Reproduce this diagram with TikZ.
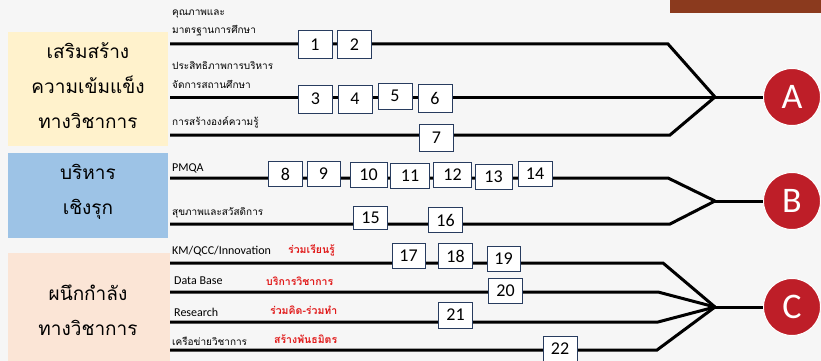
\documentclass[tikz,border=0pt]{standalone}
\usepackage{fontspec}
\setmainfont{Carlito}
\newfontfamily\thaifont[Script=Thai]{Loma}
\usetikzlibrary{positioning}
\definecolor{bgcol}{RGB}{246,246,246}
\definecolor{yellowbox}{RGB}{255,242,204}
\definecolor{bluebox}{RGB}{157,195,230}
\definecolor{pinkbox}{RGB}{251,229,214}
\definecolor{hubred}{RGB}{190,30,40}
\definecolor{topbrown}{RGB}{139,58,30}
\definecolor{boxline}{RGB}{40,60,95}
\definecolor{tagred}{RGB}{225,25,25}
\tikzset{
  group box/.style={
    rectangle, fill=#1, draw=none, inner sep=0pt
  },
  group text/.style={
    align=center, inner sep=0pt,
    font=\thaifont\fontsize{19}{35}\selectfont
  },
  route/.style={
    draw=black, line width=3pt, line join=miter
  },
  step box/.style={
    draw=boxline, fill=white, line width=1pt,
    minimum width=34pt, minimum height=25pt, inner sep=0pt,
    font=\fontsize{18}{18}\selectfont
  },
  hub/.style={
    circle, fill=hubred, draw=white, line width=1pt,
    minimum size=57pt, inner sep=0pt, text=white,
    font=\fontsize{36}{36}\selectfont
  },
  line label/.style={
    anchor=west, inner sep=0pt, font=\thaifont\fontsize{10}{12}\selectfont
  },
  latin label/.style={
    anchor=west, inner sep=0pt, font=\fontsize{12}{12}\selectfont
  },
  red tag/.style={
    anchor=west, inner sep=0pt, text=tagred,
    font=\thaifont\bfseries\fontsize{10.5}{12}\selectfont
  },
}

\begin{document}
\begin{tikzpicture}[x=1pt, y=-1pt]

  \fill[bgcol] (0,0) rectangle (821,361);
  \useasboundingbox (0,0) rectangle (821,361);
  \node[group box=topbrown, minimum width=151pt, minimum height=13pt] (bar) at (745.5,6.5) {};

  % left groups
  \node[group box=yellowbox, minimum width=160pt, minimum height=114pt] (gA) at (88,89) {};
  \node[group box=bluebox, minimum width=160pt, minimum height=85pt] (gB) at (88,195.5) {};
  \node[group box=pinkbox, minimum width=162pt, minimum height=108pt] (gC) at (89,307) {};
  \node[group text] (tA) at (88,86) {เสริมสร้าง\\ความเข้มแข็ง\\ทางวิชาการ};
  \node[group text] (tB) at (88,192) {บริหาร\\เชิงรุก};
  \node[group text] (tC) at (88,310) {ผนึกกำลัง\\ทางวิชาการ};

  % line ends, bends and junctions
  \coordinate (sA1) at (170,44);  \coordinate (kA1) at (668,44);
  \coordinate (sA2) at (170,97);
  \coordinate (sA3) at (170,135); \coordinate (kA3) at (670,135);
  \coordinate (jA) at (715,97);
  \coordinate (sB1) at (170,178); \coordinate (kB1) at (668,178);
  \coordinate (sB2) at (170,224); \coordinate (kB2) at (670,224);
  \coordinate (jB) at (715,201);
  \coordinate (sC1) at (170,263); \coordinate (kC1) at (663,263);
  \coordinate (sC2) at (170,292); \coordinate (kC2) at (658,292);
  \coordinate (sC3) at (170,322); \coordinate (kC3) at (658,322);
  \coordinate (sC4) at (170,350); \coordinate (kC4) at (657,350);
  \coordinate (jC) at (715,307);

  \node[hub] (cA) at (792,97) {A};
  \node[hub] (cB) at (792,201) {B};
  \node[hub] (cC) at (792,307) {C};

  % group A
  \draw[route] (sA1) -- (kA1) -- (jA);
  \draw[route] (sA2) -- (jA);
  \draw[route] (sA3) -- (kA3) -- (jA);
  \draw[route] (jA) -- (cA);
  % group B
  \draw[route] (sB1) -- (kB1) -- (jB);
  \draw[route] (sB2) -- (kB2) -- (jB);
  \draw[route] (jB) -- (cB);
  % group C
  \draw[route] (sC1) -- (kC1) -- (jC);
  \draw[route] (sC2) -- (kC2) -- (jC);
  \draw[route] (sC3) -- (kC3) -- (jC);
  \draw[route] (sC4) -- (kC4) -- (jC);
  \draw[route] (jC) -- (cC);

  % numbered steps
  \node[step box, minimum height=28pt] (b1) at (315,45) {1};
  \node[step box, minimum height=28pt] (b2) at (354.5,45) {2};
  \node[step box, minimum height=28pt] (b3) at (315.5,99) {3};
  \node[step box, minimum height=28pt] (b4) at (355,99) {4};
  \node[step box, minimum height=26pt] (b5) at (395,96) {5};
  \node[step box, minimum height=28pt] (b6) at (435,98) {6};
  \node[step box, minimum height=27pt] (b7) at (436.5,138) {7};
  \node[step box] (b8) at (285.5,174) {8};
  \node[step box, minimum width=33pt] (b9) at (323.5,174) {9};
  \node[step box, minimum width=37pt] (b10) at (368.5,175) {10};
  \node[step box, minimum width=39pt] (b11) at (410,176) {11};
  \node[step box, minimum width=38pt] (b12) at (452.5,175) {12};
  \node[step box, minimum width=37pt] (b13) at (493.5,177) {13};
  \node[step box] (b14) at (535,174) {14};
  \node[step box, minimum height=23pt] (b15) at (370.5,218) {15};
  \node[step box] (b16) at (445.5,220) {16};
  \node[step box, minimum width=33pt] (b17) at (408.5,256) {17};
  \node[step box] (b18) at (455.5,256) {18};
  \node[step box, minimum width=33pt] (b19) at (503.5,259) {19};
  \node[step box] (b20) at (505.5,291) {20};
  \node[step box, minimum height=26pt] (b21) at (455.5,315) {21};
  \node[step box] (b22) at (560,349) {22};

  % line labels
  \node[line label] (l1a) at (172,14) {คุณภาพและ};
  \node[line label] (l1b) at (172,31) {มาตรฐานการศึกษา};
  \node[line label] (l2a) at (172,66) {ประสิทธิภาพการบริหาร};
  \node[line label] (l2b) at (172,84) {จัดการสถานศึกษา};
  \node[line label] (l3) at (172,122) {การสร้างองค์ความรู้};
  \node[latin label] (l4) at (172,168) {PMQA};
  \node[line label] (l5) at (172,213) {สุขภาพและสวัสดิการ};
  \node[latin label] (l6) at (172,251) {KM/QCC/Innovation};
  \node[latin label] (l7) at (174,281) {Data Base};
  \node[latin label] (l8) at (174,312) {Research};
  \node[line label] (l9) at (172,341) {เครือข่ายวิชาการ};
  \node[red tag] (r6) at (288,250) {ร่วมเรียนรู้};
  \node[red tag] (r7) at (266,281) {บริการวิชาการ};
  \node[red tag] (r8) at (270,310) {ร่วมคิด-ร่วมทำ};
  \node[red tag] (r9) at (274,339) {สร้างพันธมิตร};

\end{tikzpicture}
\end{document}
